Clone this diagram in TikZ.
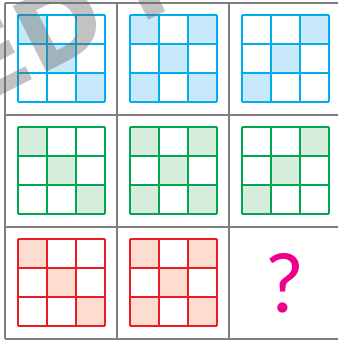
\documentclass[tikz,border=0pt]{standalone}
\usepackage{fontspec}
\usetikzlibrary{positioning}
\newfontfamily\markfont{Lato}
\newfontfamily\stampfont{DejaVu Sans}
\definecolor{frameGray}{RGB}{128,128,128}
\definecolor{lineblue}{RGB}{0,174,239}
\definecolor{fillblue}{RGB}{199,233,250}
\definecolor{linegreen}{RGB}{0,166,81}
\definecolor{fillgreen}{RGB}{214,236,221}
\definecolor{linered}{RGB}{237,28,36}
\definecolor{fillred}{RGB}{253,221,207}
\definecolor{markpink}{RGB}{236,0,140}

\begin{document}
\begin{tikzpicture}[scale=1.0,
    framelines/.style={frameGray, line width=1.3pt},
    gridlines/.style={line width=1.1pt},
    stamptext/.style={black!60, opacity=0.4, inner sep=0pt,
      font=\stampfont\bfseries\fontsize{72}{72}\selectfont}]
    \useasboundingbox (-0.125,-0.025) rectangle (8.325,8.475);
    \clip (-0.125,-0.025) rectangle (8.325,8.475);
    % Small 3x3 grids: rows blue/green/red, columns diagonal / X / anti-diagonal
    \foreach \row/\tone in {0/blue,1/green,2/red} {
      \foreach \col/\cells in {0/{0/0,1/1,2/2}, 1/{0/0,2/0,1/1,0/2,2/2}, 2/{2/0,1/1,0/2}} {
        \pgfmathsetmacro{\gx}{2.8*\col+0.325}
        \pgfmathsetmacro{\gy}{2.8*(2-\row)+0.325}
        \ifnum\row\col=22\relax\else
          \foreach \i/\j in \cells {
            \fill[fill=fill\tone] (\gx+0.725*\i, \gy+1.45-0.725*\j) rectangle ++(0.725,0.725);
          }
          \draw[gridlines, draw=line\tone, shift={(\gx,\gy)}, scale=0.725] (0,0) grid (3,3);
        \fi
      }
    }
    % Outer frame
    \draw[framelines, scale=2.8] (0,0) grid (3,3);
    % Missing piece
    \node[markpink, font=\markfont\fontsize{58}{58}\selectfont] (qmark) at (7.0,1.4) {?};
    % Watermark across the top left
    \node[stamptext, rotate=27, anchor=base west] (stamp) at (-0.70,5.785) {ED\hspace{0.3em}IT};
\end{tikzpicture}
\end{document}
